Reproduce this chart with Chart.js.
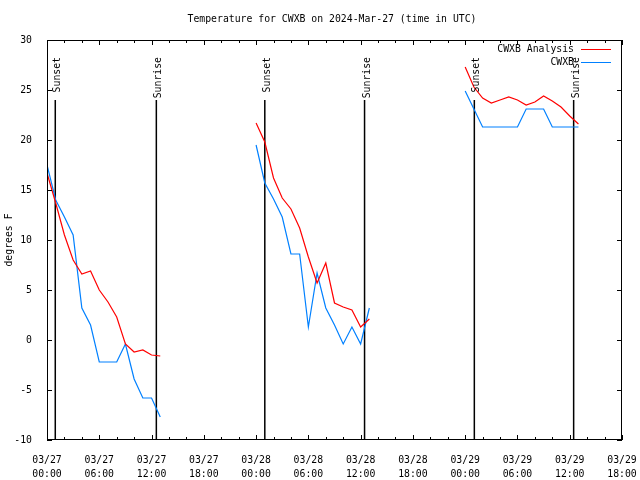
<!DOCTYPE html>
<html>
<head>
<meta charset="utf-8">
<script src="https://cdn.jsdelivr.net/npm/chart.js@4"></script>
<style>
  body { margin: 0; background: #fff; }
  canvas { display: block; }
</style>
</head>
<body>
<canvas id="tempChart" width="640" height="480"></canvas>
<script>
// hours since 2024-03-27 00:00 UTC
const hours = [];
for (let h = 0; h <= 61; h++) hours.push(h);

// null = no data (gaps between nights)
const analysisTemps = [
  16.7, 13.7, 10.5, 8.0, 6.6, 6.9, 5.0, 3.8, 2.3, -0.4, -1.2, -1.0, -1.5, -1.6,
  null, null, null, null, null, null, null, null, null, null,
  21.7, 19.8, 16.2, 14.2, 13.1, 11.2, 8.3, 5.7, 7.7, 3.7, 3.3, 3.0, 1.3, 2.1,
  null, null, null, null, null, null, null, null, null, null,
  27.3, 25.3, 24.2, 23.7, 24.0, 24.3, 24.0, 23.5, 23.8, 24.4, 23.9, 23.3, 22.4, 21.6
];
const obsTemps = [
  17.5, 14.0, 12.3, 10.5, 3.2, 1.5, -2.2, -2.2, -2.2, -0.4, -3.9, -5.8, -5.8, -7.7,
  null, null, null, null, null, null, null, null, null, null,
  19.5, 15.7, 14.1, 12.3, 8.6, 8.6, 1.3, 6.7, 3.2, 1.5, -0.4, 1.3, -0.4, 3.2,
  null, null, null, null, null, null, null, null, null, null,
  24.9, 23.1, 21.3, 21.3, 21.3, 21.3, 21.3, 23.1, 23.1, 23.1, 21.3, 21.3, 21.3, 21.3
];

const sunHours = [0.95, 12.55, 25.0, 36.45, 49.05, 60.45];
const sunNames = ['Sunset', 'Sunrise', 'Sunset', 'Sunrise', 'Sunset', 'Sunrise'];

const tickDates = ['03/27', '03/27', '03/27', '03/27', '03/28', '03/28', '03/28', '03/28', '03/29', '03/29', '03/29', '03/29'];
const tickTimes = ['00:00', '06:00', '12:00', '18:00', '00:00', '06:00', '12:00', '18:00', '00:00', '06:00', '12:00', '18:00'];

const FONT = 'DejaVu Sans Mono';
const FSIZE = 9.8;

function toPoints(vals) {
  return hours.map((h, i) => ({ x: h, y: vals[i] }));
}

// vertical sunrise/sunset markers from bottom up to 85% of plot height
const sunLineData = [];
sunHours.forEach(h => {
  sunLineData.push({ x: h, y: -10 }, { x: h, y: 24 }, { x: h, y: null });
});

const framePlugin = {
  id: 'frame',
  afterDraw(chart) {
    const ctx = chart.ctx;
    const a = chart.chartArea;
    const xs = chart.scales.x, ys = chart.scales.y;
    ctx.save();
    ctx.strokeStyle = '#000';
    ctx.lineWidth = 1;
    ctx.strokeRect(a.left + 0.5, a.top + 0.5, a.right - a.left - 1, a.bottom - a.top - 1);

    // inward ticks, mirrored
    ctx.beginPath();
    for (let h = 0; h <= 66; h += 2) {
      const px = Math.round(xs.getPixelForValue(h)) + 0.5;
      const len = h % 6 === 0 ? 5 : 3;
      ctx.moveTo(px, a.bottom); ctx.lineTo(px, a.bottom - len);
      ctx.moveTo(px, a.top); ctx.lineTo(px, a.top + len);
    }
    for (let t = -10; t <= 30; t += 5) {
      const py = Math.round(ys.getPixelForValue(t)) + 0.5;
      ctx.moveTo(a.left, py); ctx.lineTo(a.left + 5, py);
      ctx.moveTo(a.right, py); ctx.lineTo(a.right - 5, py);
    }
    ctx.stroke();

    ctx.fillStyle = '#000';
    ctx.font = FSIZE + 'px "' + FONT + '"';

    // sun labels, rotated
    sunHours.forEach((h, i) => {
      const px = xs.getPixelForValue(h);
      ctx.save();
      ctx.translate(px + 5, 57);
      ctx.rotate(-Math.PI / 2);
      ctx.textAlign = 'right';
      ctx.textBaseline = 'alphabetic';
      ctx.fillText(sunNames[i], 0, 0);
      ctx.restore();
    });

    // title
    ctx.textAlign = 'center';
    ctx.textBaseline = 'middle';
    ctx.fillText('Temperature for CWXB on 2024-Mar-27 (time in UTC)', 332, 19);

    // key
    const keys = [
      { label: chart.data.datasets[0].label, color: chart.data.datasets[0].borderColor, y: 49.5 },
      { label: chart.data.datasets[1].label, color: chart.data.datasets[1].borderColor, y: 62.5 }
    ];
    keys.forEach(k => {
      ctx.textAlign = 'right';
      ctx.fillStyle = '#000';
      ctx.fillText(k.label, 574, k.y);
      ctx.strokeStyle = k.color;
      ctx.beginPath();
      ctx.moveTo(581, k.y); ctx.lineTo(611, k.y);
      ctx.stroke();
    });
    ctx.restore();
  }
};

new Chart(document.getElementById('tempChart'), {
  type: 'line',
  data: {
    datasets: [
      {
        label: 'CWXB Analysis',
        data: toPoints(analysisTemps),
        borderColor: '#ff0000',
        borderWidth: 1.2,
        pointRadius: 0,
        tension: 0,
        spanGaps: false
      },
      {
        label: 'CWXB',
        data: toPoints(obsTemps),
        borderColor: '#0080ff',
        borderWidth: 1.2,
        pointRadius: 0,
        tension: 0,
        spanGaps: false
      },
      {
        label: 'sun',
        data: sunLineData,
        borderColor: '#000',
        borderWidth: 1.5,
        pointRadius: 0,
        spanGaps: false
      }
    ]
  },
  options: {
    responsive: false,
    animation: false,
    devicePixelRatio: 1,
    layout: { padding: { top: 40, right: 18, left: 0, bottom: 0 } },
    plugins: { legend: { display: false }, tooltip: { enabled: false }, title: { display: false } },
    scales: {
      x: {
        type: 'linear',
        min: 0,
        max: 66,
        grid: { display: false },
        border: { display: false },
        afterFit: s => { s.height = 40; s.paddingLeft = 0; s.paddingRight = 0; },
        ticks: {
          stepSize: 6,
          autoSkip: false,
          maxRotation: 0,
          padding: 6,
          color: '#000',
          font: { family: FONT, size: FSIZE, lineHeight: 1.4 },
          callback: (v, i) => [tickDates[i], tickTimes[i]]
        }
      },
      y: {
        min: -10,
        max: 30,
        grid: { display: false },
        border: { display: false },
        afterFit: s => { s.width = 47; s.paddingTop = 0; s.paddingBottom = 0; },
        ticks: {
          stepSize: 5,
          padding: 7,
          color: '#000',
          font: { family: FONT, size: FSIZE }
        },
        title: {
          display: true,
          text: 'degrees F',
          color: '#000',
          padding: { top: 4, bottom: 0 },
          font: { family: FONT, size: FSIZE, lineHeight: 1.2 }
        }
      }
    }
  },
  plugins: [framePlugin]
});
</script>
</body>
</html>
